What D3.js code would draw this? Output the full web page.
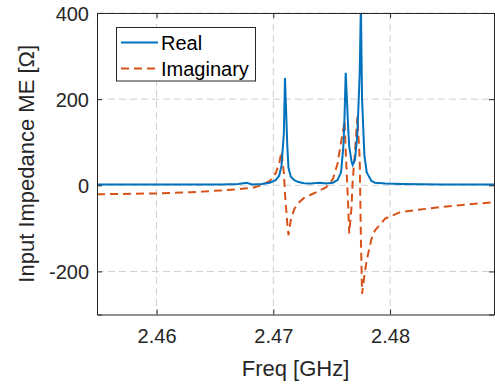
<!DOCTYPE html>
<html><head><meta charset="utf-8">
<script src="https://cdn.jsdelivr.net/npm/d3@7"></script>
<style>body{margin:0;background:#fff}svg{display:block}text{font-family:"Liberation Sans",Arial,sans-serif}</style>
</head><body><svg id="c" width="495" height="390"></svg>
<script>
const freq = [2.4549,2.4570,2.4600,2.4630,2.4655,2.4670,2.4677,2.4682,2.4690,2.4697,2.4702,2.4705,2.4707,2.4709,2.4710,2.4712,2.4713,2.4715,2.4718,2.4721,2.4726,2.4732,2.4740,2.4745,2.4751,2.4755,2.4758,2.4760,2.4761,2.4762,2.4764,2.4765,2.4767,2.4768,2.4770,2.4772,2.4774,2.4775,2.4776,2.4778,2.4780,2.4784,2.4787,2.4796,2.4809,2.4845,2.4889];
const realVals = [2,2,2,2,2,3,6,2,3,6,12,22,45,120,249,90,40,20,12,8,5,4,6,4,6,12,30,90,160,261,140,90,55,47,60,120,260,420,200,70,30,10,6,4,3,2,2];
const imagVals = [-21,-20,-19,-16,-12,-9,-7,-6,0,10,28,50,78,30,-20,-90,-116,-80,-55,-42,-30,-22,-12,-5,14,50,100,130,150,80,-40,-112,-50,10,80,159,60,-120,-252,-210,-174,-125,-105,-77,-62,-50,-39];
const xTicks = [2.46,2.47,2.48];
const yTicks = [-200,0,200,400];
const seriesNames = ["Real","Imaginary"];
const colors = ["#0072BD","#D95319"];

const L=97,R=494,T=13,B=314.5;
const svg=d3.select("#c");
const x=d3.scaleLinear().domain([2.4549,2.4889]).range([L,R]);
const y=d3.scaleLinear().domain([-300,400]).range([B,T]);
const axisCol="#262626";

svg.append("defs").append("clipPath").attr("id","clip").append("rect")
  .attr("x",L).attr("y",T).attr("width",R-L).attr("height",B-T);

// grid
const g=svg.append("g");
g.selectAll(".gx").data(xTicks).join("line").attr("x1",d=>x(d)).attr("x2",d=>x(d))
  .attr("y1",T).attr("y2",B).attr("stroke","#d0d0d0").attr("stroke-width",1).attr("stroke-dasharray","7,4");
g.selectAll(".gy").data(yTicks).join("line").attr("y1",d=>y(d)).attr("y2",d=>y(d))
  .attr("x1",L).attr("x2",R).attr("stroke","#d0d0d0").attr("stroke-width",1).attr("stroke-dasharray","7,4");

// lines
const pts=freq.map((f,i)=>({f,r:realVals[i],im:imagVals[i]}));
const plot=svg.append("g").attr("clip-path","url(#clip)");
plot.append("path").datum(pts).attr("fill","none").attr("stroke",colors[1]).attr("stroke-width",2)
  .attr("stroke-dasharray","8,5").attr("d",d3.line().x(d=>x(d.f)).y(d=>y(d.im)));
plot.append("path").datum(pts).attr("fill","none").attr("stroke",colors[0]).attr("stroke-width",2)
  .attr("d",d3.line().x(d=>x(d.f)).y(d=>y(d.r)));

// axes
const fs=20;
const xa=svg.append("g").attr("transform",`translate(0,${B})`)
  .call(d3.axisBottom(x).tickValues(xTicks).tickSize(-5).tickPadding(14).tickFormat(d3.format(".2f")));
const xt=svg.append("g").attr("transform",`translate(0,${T})`)
  .call(d3.axisTop(x).tickValues(xTicks).tickSize(-5).tickFormat(""));
const ya=svg.append("g").attr("transform",`translate(${L},0)`)
  .call(d3.axisLeft(y).tickValues(yTicks).tickSize(-5).tickPadding(8).tickFormat(d=>String(d)));
const yr=svg.append("g").attr("transform",`translate(${R},0)`)
  .call(d3.axisRight(y).tickValues(yTicks).tickSize(-5).tickFormat(""));
[xa,xt,ya,yr].forEach(a=>{
  a.select(".domain").attr("stroke",axisCol).attr("stroke-width",1);
  a.selectAll(".tick line").attr("stroke",axisCol);
  a.selectAll("text").attr("fill",axisCol).style("font-size",fs+"px").style("font-family","Liberation Sans, Arial, sans-serif");
});
ya.selectAll("text").attr("dy","0.35em");

svg.append("text").attr("x",(L+R)/2).attr("y",376).attr("text-anchor","middle")
  .attr("fill",axisCol).style("font-size","22px").text("Freq [GHz]");
svg.append("text").attr("transform",`translate(34,${(T+B)/2}) rotate(-90)`).attr("text-anchor","middle")
  .attr("fill",axisCol).style("font-size","22px").text("Input Impedance ME [Ω]");

// legend
const lg=svg.append("g");
lg.append("rect").attr("x",116.5).attr("y",27.5).attr("width",139).attr("height",53.5)
  .attr("fill","#fff").attr("stroke",axisCol).attr("stroke-width",1);
seriesNames.forEach((n,i)=>{
  const yy=42.5+i*26;
  lg.append("line").attr("x1",121).attr("x2",158).attr("y1",yy).attr("y2",yy)
    .attr("stroke",colors[i]).attr("stroke-width",2).attr("stroke-dasharray",i?"8,5":null);
  lg.append("text").attr("x",161).attr("y",yy).attr("dy","0.35em").attr("fill","#000")
    .style("font-size","20px").text(n);
});
</script></body></html>
